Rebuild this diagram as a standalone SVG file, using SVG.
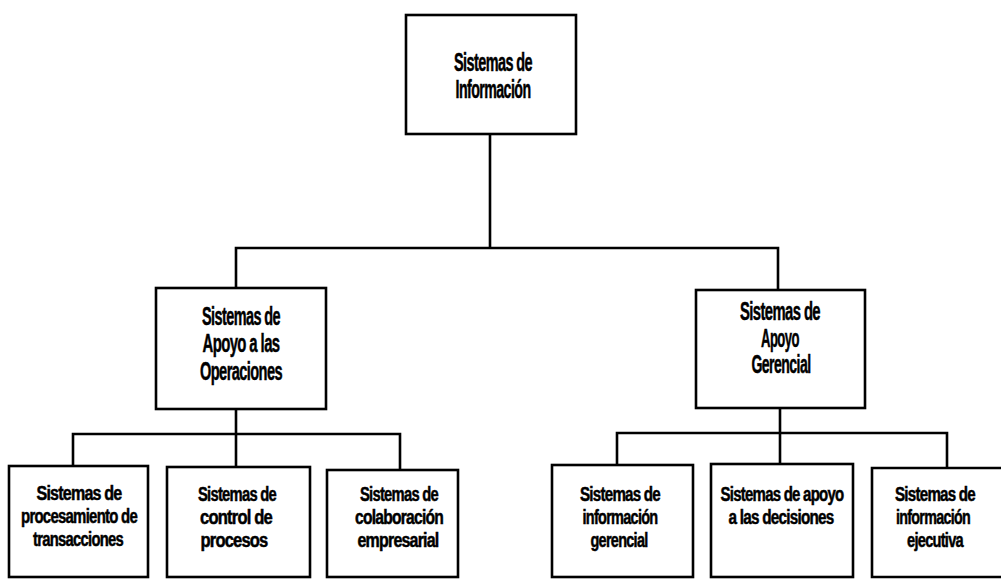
<svg xmlns="http://www.w3.org/2000/svg" width="1001" height="579" viewBox="0 0 1001 579">
<style>
  .box { fill: #ffffff; stroke: #000000; stroke-width: 2.6; }
  .conn { fill: none; stroke: #000000; stroke-width: 2.6; stroke-linecap: square; }
  .lbl { font-family: "Liberation Sans Narrow", "Liberation Sans", Arial, sans-serif; font-weight: bold; font-size: 25px; fill: #000000; stroke: #000000; stroke-width: 0.5; text-anchor: middle; letter-spacing: -1px; }
  .lbls { font-family: "Liberation Sans Narrow", "Liberation Sans", Arial, sans-serif; font-weight: bold; font-size: 20px; fill: #000000; stroke: #000000; stroke-width: 0.5; text-anchor: middle; letter-spacing: -1px; }
</style>
<rect x="0" y="0" width="1001" height="579" fill="#ffffff"/>
<g id="connectors">
  <path class="conn" d="M490 134 V248 M236 248 H778 M236 248 V288 M778 248 V290"/>
  <path class="conn" d="M236 409 V434 M73 434 H400 M73 434 V466 M236 434 V467 M400 434 V470"/>
  <path class="conn" d="M780 408 V433 M617 433 H947 M617 433 V465 M780 433 V464 M947 433 V468"/>
</g>
<g id="n-sistemas-informacion">
  <rect class="box" x="406" y="15" width="170" height="119"/>
  <text class="lbl" x="493" y="71" textLength="78" lengthAdjust="spacingAndGlyphs">Sistemas de</text>
  <text class="lbl" x="493" y="98" textLength="75" lengthAdjust="spacingAndGlyphs">Información</text>
</g>
<g id="n-apoyo-operaciones">
  <rect class="box" x="156" y="288" width="170" height="121"/>
  <text class="lbl" x="241" y="325" textLength="78" lengthAdjust="spacingAndGlyphs">Sistemas de</text>
  <text class="lbl" x="241" y="352" textLength="77" lengthAdjust="spacingAndGlyphs">Apoyo a las</text>
  <text class="lbl" x="241" y="380" textLength="82" lengthAdjust="spacingAndGlyphs">Operaciones</text>
</g>
<g id="n-apoyo-gerencial">
  <rect class="box" x="696" y="290" width="169" height="118"/>
  <text class="lbl" x="780" y="320" textLength="80" lengthAdjust="spacingAndGlyphs">Sistemas de</text>
  <text class="lbl" x="780" y="347" textLength="38" lengthAdjust="spacingAndGlyphs">Apoyo</text>
  <text class="lbl" x="781" y="373" textLength="59" lengthAdjust="spacingAndGlyphs">Gerencial</text>
</g>
<g id="n-procesamiento-transacciones">
  <rect class="box" x="9" y="466" width="139" height="111"/>
  <text class="lbls" x="79" y="500" textLength="85" lengthAdjust="spacingAndGlyphs">Sistemas de</text>
  <text class="lbls" x="79" y="523" textLength="116" lengthAdjust="spacingAndGlyphs">procesamiento de</text>
  <text class="lbls" x="78" y="546" textLength="90" lengthAdjust="spacingAndGlyphs">transacciones</text>
</g>
<g id="n-control-procesos">
  <rect class="box" x="167" y="467" width="143" height="110"/>
  <text class="lbls" x="237" y="501" textLength="78" lengthAdjust="spacingAndGlyphs">Sistemas de</text>
  <text class="lbls" x="236" y="524" textLength="72" lengthAdjust="spacingAndGlyphs">control de</text>
  <text class="lbls" x="234" y="547" textLength="67" lengthAdjust="spacingAndGlyphs">procesos</text>
</g>
<g id="n-colaboracion-empresarial">
  <rect class="box" x="327" y="470" width="131" height="107"/>
  <text class="lbls" x="399" y="501" textLength="78" lengthAdjust="spacingAndGlyphs">Sistemas de</text>
  <text class="lbls" x="399" y="524" textLength="88" lengthAdjust="spacingAndGlyphs">colaboración</text>
  <text class="lbls" x="398" y="547" textLength="81" lengthAdjust="spacingAndGlyphs">empresarial</text>
</g>
<g id="n-informacion-gerencial">
  <rect class="box" x="552" y="465" width="141" height="112"/>
  <text class="lbls" x="620" y="501" textLength="80" lengthAdjust="spacingAndGlyphs">Sistemas de</text>
  <text class="lbls" x="620" y="524" textLength="75" lengthAdjust="spacingAndGlyphs">información</text>
  <text class="lbls" x="619" y="547" textLength="57" lengthAdjust="spacingAndGlyphs">gerencial</text>
</g>
<g id="n-apoyo-decisiones">
  <rect class="box" x="711" y="464" width="142" height="113"/>
  <text class="lbls" x="782" y="501" textLength="123" lengthAdjust="spacingAndGlyphs">Sistemas de apoyo</text>
  <text class="lbls" x="781" y="524" textLength="105" lengthAdjust="spacingAndGlyphs">a las decisiones</text>
</g>
<g id="n-informacion-ejecutiva">
  <path class="box" d="M1001 468 H872 V577 H1001"/>
  <text class="lbls" x="935" y="501" textLength="80" lengthAdjust="spacingAndGlyphs">Sistemas de</text>
  <text class="lbls" x="933" y="524" textLength="74" lengthAdjust="spacingAndGlyphs">información</text>
  <text class="lbls" x="935" y="547" textLength="56" lengthAdjust="spacingAndGlyphs">ejecutiva</text>
</g>
</svg>
